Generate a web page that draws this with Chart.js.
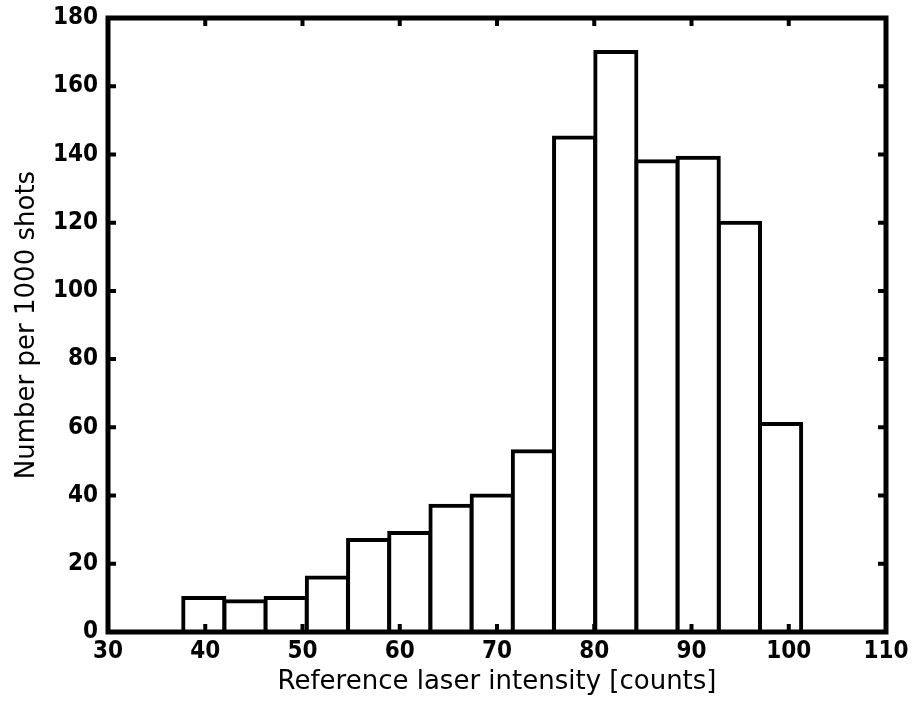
<!DOCTYPE html>
<html>
<head>
<meta charset="utf-8">
<title>Reference laser intensity histogram</title>
<script src="https://cdn.jsdelivr.net/npm/chart.js@4.4.1/dist/chart.umd.min.js"></script>
<style>
  body { margin: 0; background: #fff; }
  canvas { display: block; }
</style>
</head>
<body>
<canvas id="histo" width="916" height="708"></canvas>
<script>
// bin centres (counts)
const binCentres = [39.85, 44.09, 48.32, 52.56, 56.80, 61.03, 65.27, 69.51, 73.74, 77.98, 82.22, 86.45, 90.69, 94.93, 99.16];
// number per 1000 shots
const shotCounts = [10, 9, 10, 16, 27, 29, 37, 40, 53, 145, 170, 138, 139, 120, 61];
const xTicks = [30, 40, 50, 60, 70, 80, 90, 100, 110];
const yTicks = [0, 20, 40, 60, 80, 100, 120, 140, 160, 180];

const xTitle = 'Reference laser intensity [counts]';
const yTitle = 'Number per 1000 shots';

const tickFont = { family: "'DejaVu Sans Condensed', 'DejaVu Sans'", size: 24, weight: 'bold' };
const titleFont = { family: 'DejaVu Sans', size: 26 };

// box round the plot plus inward ticks on all four sides
const boxPlugin = {
  id: 'boxPlugin',
  afterDraw(chart) {
    const ctx = chart.ctx;
    const a = chart.chartArea;
    const xs = chart.scales.x, ys = chart.scales.y;
    ctx.save();
    ctx.strokeStyle = '#000';
    ctx.lineWidth = 4;
    ctx.lineCap = 'butt';
    xs.ticks.forEach(t => {
      const px = xs.getPixelForValue(t.value);
      ctx.beginPath();
      ctx.moveTo(px, a.bottom); ctx.lineTo(px, a.bottom - 8);
      ctx.moveTo(px, a.top); ctx.lineTo(px, a.top + 8);
      ctx.stroke();
    });
    ys.ticks.forEach(t => {
      const py = ys.getPixelForValue(t.value);
      ctx.beginPath();
      ctx.moveTo(a.left, py); ctx.lineTo(a.left + 8, py);
      ctx.moveTo(a.right, py); ctx.lineTo(a.right - 8, py);
      ctx.stroke();
    });
    ctx.lineWidth = 5;
    ctx.lineJoin = 'miter';
    ctx.strokeRect(a.left, a.top, a.right - a.left, a.bottom - a.top);
    ctx.restore();
  }
};

const ctx = document.getElementById('histo').getContext('2d');
const myHisto = new Chart(ctx, {
  type: 'bar',
  data: {
    datasets: [{
      data: binCentres.map((c, i) => ({ x: c, y: shotCounts[i] })),
      backgroundColor: '#fff',
      borderColor: '#000',
      borderWidth: 4,
      borderSkipped: false,
      inflateAmount: 2,
      barPercentage: 1,
      categoryPercentage: 1
    }]
  },
  options: {
    responsive: false,
    animation: false,
    events: [],
    layout: { padding: { left: 0, top: 18, right: 30, bottom: 0 } },
    plugins: { legend: { display: false }, tooltip: { enabled: false } },
    scales: {
      x: {
        type: 'linear',
        offset: false,
        min: 30, max: 110,
        afterBuildTicks: s => { s.ticks = xTicks.map(v => ({ value: v })); },
        afterFit: s => { s.height = 76; s.paddingLeft = 0; s.paddingRight = 0; },
        border: { display: false },
        grid: { display: false, drawTicks: false, offset: false },
        ticks: {
          color: '#000',
          padding: 5,
          maxRotation: 0,
          font: tickFont
        },
        title: {
          display: true,
          text: xTitle,
          color: '#000',
          padding: { top: 0, bottom: 10 },
          font: titleFont
        }
      },
      y: {
        min: 0, max: 180,
        afterBuildTicks: s => { s.ticks = yTicks.map(v => ({ value: v })); },
        afterFit: s => { s.width = 108; s.paddingTop = 0; s.paddingBottom = 0; },
        border: { display: false },
        grid: { display: false, drawTicks: false },
        ticks: {
          color: '#000',
          padding: 10,
          font: tickFont
        },
        title: {
          display: true,
          text: yTitle,
          color: '#000',
          padding: { top: 12, bottom: 0 },
          font: titleFont
        }
      }
    }
  },
  plugins: [boxPlugin]
});
</script>
</body>
</html>
